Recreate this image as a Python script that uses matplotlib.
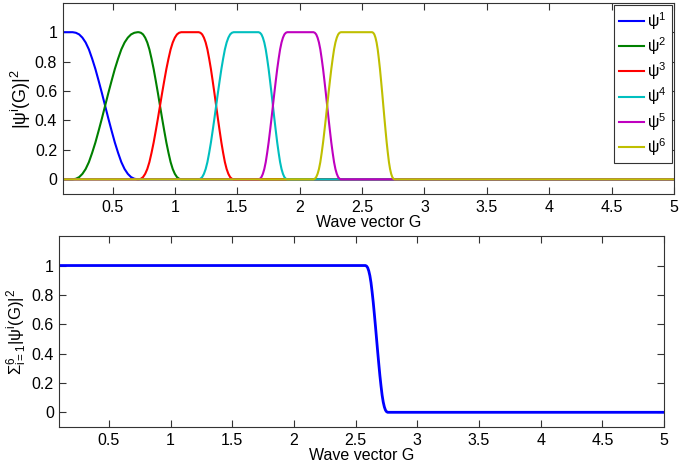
import matplotlib
matplotlib.use("Agg")
import matplotlib.pyplot as plt

plt.rcParams['font.family'] = ['Liberation Sans', 'DejaVu Sans']
plt.rcParams['mathtext.fontset'] = 'custom'
plt.rcParams['mathtext.rm'] = 'Liberation Sans'
plt.rcParams['mathtext.it'] = 'Liberation Sans'
plt.rcParams['mathtext.bf'] = 'Liberation Sans:bold'

# transition regions (x positions)
t1x = [0.18, 0.206, 0.232, 0.258, 0.284, 0.31, 0.336, 0.362, 0.388, 0.414, 0.44,
       0.466, 0.492, 0.518, 0.544, 0.57, 0.596, 0.622, 0.648, 0.674, 0.70]
t2x = [0.71, 0.727, 0.744, 0.761, 0.778, 0.795, 0.812, 0.829, 0.846, 0.863, 0.88,
       0.897, 0.914, 0.931, 0.948, 0.965, 0.982, 0.999, 1.016, 1.033, 1.05]
t3x = [1.19, 1.204, 1.218, 1.232, 1.246, 1.26, 1.274, 1.288, 1.302, 1.316, 1.33,
       1.344, 1.358, 1.372, 1.386, 1.40, 1.414, 1.428, 1.442, 1.456, 1.47]
t4x = [1.67, 1.6815, 1.693, 1.7045, 1.716, 1.7275, 1.739, 1.7505, 1.762, 1.7735, 1.785,
       1.7965, 1.808, 1.8195, 1.831, 1.8425, 1.854, 1.8655, 1.877, 1.8885, 1.90]
t5x = [2.11, 2.121, 2.132, 2.143, 2.154, 2.165, 2.176, 2.187, 2.198, 2.209, 2.22,
       2.231, 2.242, 2.253, 2.264, 2.275, 2.286, 2.297, 2.308, 2.319, 2.33]
t6x = [2.58, 2.589, 2.598, 2.607, 2.616, 2.625, 2.634, 2.643, 2.652, 2.661, 2.67,
       2.679, 2.688, 2.697, 2.706, 2.715, 2.724, 2.733, 2.742, 2.751, 2.76]
# |psi|^2 values across a falling / rising edge
fall = [1, 0.996, 0.985, 0.963, 0.93, 0.883, 0.82, 0.75, 0.67, 0.587, 0.5,
        0.413, 0.33, 0.25, 0.18, 0.117, 0.07, 0.037, 0.015, 0.004, 0]
rise = [0, 0.004, 0.015, 0.037, 0.07, 0.117, 0.18, 0.25, 0.33, 0.413, 0.5,
        0.587, 0.67, 0.75, 0.82, 0.883, 0.93, 0.963, 0.985, 0.996, 1]

x_start, x_end = 0.1, 5.0

psi_x = [
    [x_start] + t1x + [x_end],
    [x_start] + t1x + t2x + [x_end],
    [x_start] + t2x + t3x + [x_end],
    [x_start] + t3x + t4x + [x_end],
    [x_start] + t4x + t5x + [x_end],
    [x_start] + t5x + t6x + [x_end],
]
psi_y = [
    [1] + fall + [0],
    [0] + rise + fall + [0],
    [0] + rise + fall + [0],
    [0] + rise + fall + [0],
    [0] + rise + fall + [0],
    [0] + rise + fall + [0],
]
labels = ['1', '2', '3', '4', '5', '6']
colors = [(0, 0, 1), (0, 0.5, 0), (1, 0, 0), (0, 0.75, 0.75), (0.75, 0, 0.75), (0.75, 0.75, 0)]

sum_x = [x_start] + t6x + [x_end]
sum_y = [1] + fall + [0]

xticks = [0.5, 1, 1.5, 2, 2.5, 3, 3.5, 4, 4.5, 5]
xticklabels = ['0.5', '1', '1.5', '2', '2.5', '3', '3.5', '4', '4.5', '5']
yticks = [0, 0.2, 0.4, 0.6, 0.8, 1]
yticklabels = ['0', '0.2', '0.4', '0.6', '0.8', '1']

fig = plt.figure(figsize=(6.8, 4.62), dpi=100)
ax1 = fig.add_axes([0.0922, 0.580, 0.899, 0.414])
ax2 = fig.add_axes([0.0875, 0.0758, 0.889, 0.413])

for i in range(6):
    ax1.plot(psi_x[i], psi_y[i], color=colors[i], lw=1.5,
             label=r'$\mathregular{\psi^{' + labels[i] + '}}$')
ax2.plot(sum_x, sum_y, color=(0, 0, 1), lw=2.0)

for ax in (ax1, ax2):
    ax.set_xlim(0.1, 5)
    ax.set_ylim(-0.1, 1.2)
    ax.set_xticks(xticks)
    ax.set_xticklabels(xticklabels)
    ax.set_yticks(yticks)
    ax.set_yticklabels(yticklabels)
    ax.tick_params(direction='in', top=True, right=True, length=5, width=0.8,
                   labelsize=11.5, pad=4, color='#333333')
    for s in ax.spines.values():
        s.set_linewidth(0.8)
        s.set_color('#333333')
    ax.set_xlabel('Wave vector G', fontsize=11.5, labelpad=0)

ax1.set_ylabel(r'$\mathregular{|\psi^i(G)|^2}$', fontsize=13, labelpad=1)
ax2.set_ylabel(r'$\mathregular{\Sigma^6_{i=1}|\psi^i(G)|^2}$', fontsize=12, labelpad=2)

leg = ax1.legend(loc='upper right', fontsize=11.5, fancybox=False, framealpha=1,
                 edgecolor='#333333', borderaxespad=0.15, handlelength=1.6,
                 labelspacing=0.22, handletextpad=0.2, borderpad=0.3)
leg.get_frame().set_linewidth(0.8)

fig.savefig('out.png', dpi=100)
